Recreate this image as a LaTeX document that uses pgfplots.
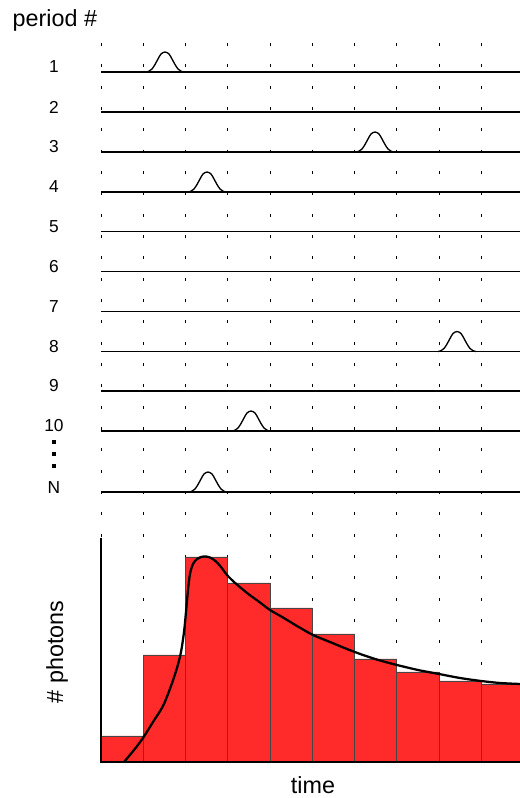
\documentclass[border=0pt]{standalone}
\usepackage{fontspec}
\setmainfont{Liberation Sans}
\usepackage{pgfplots}
\usepackage{pgfplotstable}
\pgfplotsset{compat=1.18}
\definecolor{barred}{RGB}{255,42,42}
\definecolor{baredge}{RGB}{70,70,70}

% pulse shape: offset from pulse centre (px), height above baseline (px)
\pgfplotstableread{
dx h
-19 0
-16 0.8
-13 3
-10 7.5
-7 13
-4 18
0 20
4 18
7 13
10 7.5
13 3
16 0.8
19 0
}\pulse

% histogram: left bin edge (px), counts (height above baseline, px)
\pgfplotstableread{
x h
101 26
143.25 107
185.5 205
227.75 179
270 154
312.25 128
354.5 103
396.75 90
439 81
481.25 78
523.5 78
}\hist

% decay curve (px, height above baseline)
\pgfplotstableread{
x h
124 0
134 12
143 24
153 40
163 56
171 76
177 94
181 110
184 130
186 150
188 172
190 188
193 198
197 203
201 205
206 205.5
211 204
216 200.5
221 195
227 187
234 180
241 174
249 167.5
258 161
270 152
283 144.5
297 136
313 127
330 120
347 113
363 107
380 101.5
397 97
418 92
439 88
460 84
481 81
500 79
520 78
}\decay

\begin{document}
\begin{tikzpicture}
\begin{axis}[
  scale only axis, width=390pt, height=598.5pt,
  xmin=0, xmax=520, ymin=-36, ymax=762,
  hide axis, clip=true,
]
\draw[draw=none] (rel axis cs:0,0) rectangle (rel axis cs:1,1);

% dashed time-bin markers
\addplot[black, line width=0.75pt, dash pattern=on 2.3pt off 13.7pt] coordinates {(101,719) (101,225)};
\pgfplotsinvokeforeach{143.25,185.5,227.75,270,312.25,354.5,396.75,439,481.25}{
  \addplot[black, line width=0.75pt, dash pattern=on 2.3pt off 13.7pt] coordinates {(#1,719) (#1,0)};
}

% period baselines
\pgfplotsinvokeforeach{690,650,610,570,530.5,490.5,450.5,410.5,371,331,270}{
  \addplot[black, line width=1.45pt] coordinates {(101,#1) (520,#1)};
}

% single-photon pulses
\addplot[black, line width=1pt, smooth] table[x expr=\thisrow{dx}+165, y expr=\thisrow{h}+690] {\pulse};
\addplot[black, line width=1pt, smooth] table[x expr=\thisrow{dx}+375, y expr=\thisrow{h}+610] {\pulse};
\addplot[black, line width=1pt, smooth] table[x expr=\thisrow{dx}+207, y expr=\thisrow{h}+570] {\pulse};
\addplot[black, line width=1pt, smooth] table[x expr=\thisrow{dx}+457, y expr=\thisrow{h}+410.5] {\pulse};
\addplot[black, line width=1pt, smooth] table[x expr=\thisrow{dx}+251, y expr=\thisrow{h}+331] {\pulse};
\addplot[black, line width=1pt, smooth] table[x expr=\thisrow{dx}+208, y expr=\thisrow{h}+270] {\pulse};

% vertical ellipsis
\addplot[only marks, mark=square*, mark size=1.1pt, black] coordinates {(54,320) (54,308) (54,296)};

% histogram
\addplot[ybar interval, fill=barred, draw=baredge, line width=0.6pt] table[x=x, y=h] {\hist};
\addplot[black, line width=1.1pt] coordinates {(101,224) (101,0) (520,0)};

% decay curve
\addplot[black, line width=1.7pt, smooth, tension=0.5] table[x=x, y=h] {\decay};

% labels
\node[anchor=west, font=\fontsize{17.5}{20}\selectfont] at (axis cs:8,742) {period \#};
\node[font=\fontsize{13}{15}\selectfont] at (axis cs:54,695) {1};
\node[font=\fontsize{13}{15}\selectfont] at (axis cs:54,655) {2};
\node[font=\fontsize{13}{15}\selectfont] at (axis cs:54,615) {3};
\node[font=\fontsize{13}{15}\selectfont] at (axis cs:54,575) {4};
\node[font=\fontsize{13}{15}\selectfont] at (axis cs:54,535.5) {5};
\node[font=\fontsize{13}{15}\selectfont] at (axis cs:54,495.5) {6};
\node[font=\fontsize{13}{15}\selectfont] at (axis cs:54,455.5) {7};
\node[font=\fontsize{13}{15}\selectfont] at (axis cs:54,415.5) {8};
\node[font=\fontsize{13}{15}\selectfont] at (axis cs:54,376) {9};
\node[font=\fontsize{13}{15}\selectfont] at (axis cs:54,336) {10};
\node[font=\fontsize{13}{15}\selectfont] at (axis cs:54,274) {N};
\node[rotate=90, font=\fontsize{17.5}{20}\selectfont] at (axis cs:57,110) {\# photons};
\node[font=\fontsize{17.5}{20}\selectfont] at (axis cs:313,-23) {time};
\end{axis}
\end{tikzpicture}
\end{document}
